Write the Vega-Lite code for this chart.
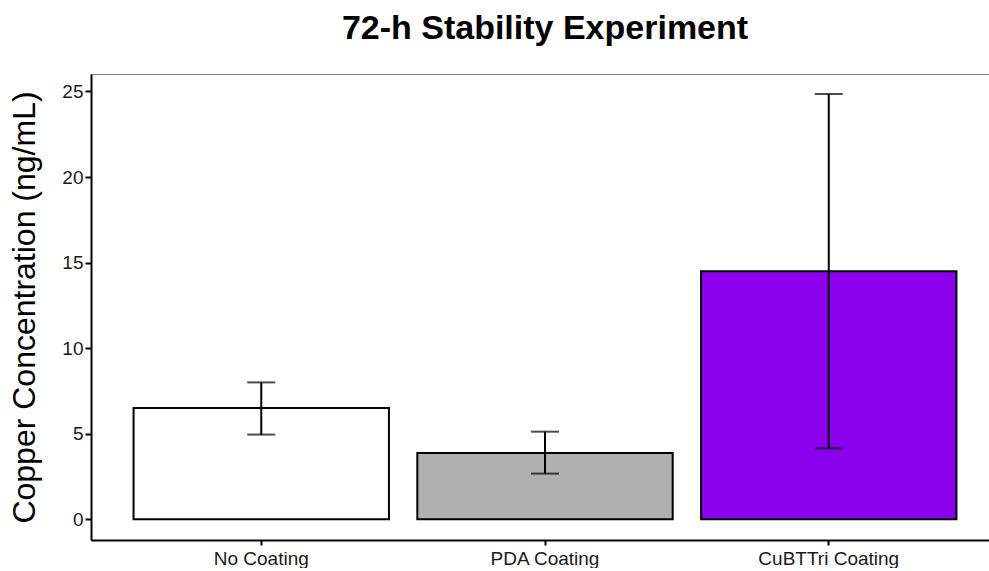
{
  "$schema": "https://vega.github.io/schema/vega-lite/v6.json",
  "width": 908,
  "height": 466,
  "padding": {"left": 8, "top": 12, "right": 0, "bottom": 0},
  "background": "white",
  "config": {
    "font": "Liberation Sans",
    "view": {"stroke": "#7f7f7f", "strokeWidth": 1}
  },
  "title": {
    "text": "72-h Stability Experiment",
    "fontSize": 34,
    "fontWeight": "bold",
    "font": "Liberation Sans",
    "color": "#000000",
    "anchor": "middle",
    "offset": 28
  },
  "data": {
    "values": [
      {"group": "No Coating", "mean": 6.5, "lo": 4.95, "hi": 8.0},
      {"group": "PDA Coating", "mean": 3.88, "lo": 2.67, "hi": 5.12},
      {"group": "CuBTTri Coating", "mean": 14.5, "lo": 4.15, "hi": 24.85}
    ]
  },
  "encoding": {
    "x": {
      "field": "group",
      "type": "nominal",
      "sort": ["No Coating", "PDA Coating", "CuBTTri Coating"],
      "scale": {"paddingInner": 0.1, "paddingOuter": 0.15},
      "axis": {
        "title": null,
        "labelAngle": 0,
        "labelFontSize": 19,
        "labelColor": "#1a1a1a",
        "labelPadding": 4,
        "tickSize": 5,
        "tickWidth": 2,
        "tickColor": "#000000",
        "domainColor": "#000000",
        "domainWidth": 2
      }
    }
  },
  "layer": [
    {
      "mark": {"type": "bar", "stroke": "#000000", "strokeWidth": 2},
      "encoding": {
        "y": {
          "field": "mean",
          "type": "quantitative",
          "scale": {"domain": [-1.21, 26.02], "nice": false, "zero": false},
          "axis": {
            "title": "Copper Concentration (ng/mL)",
            "titleFontSize": 32,
            "titleFontWeight": "normal",
            "titleColor": "#000000",
            "titlePadding": 20,
            "values": [0, 5, 10, 15, 20, 25],
            "grid": false,
            "labelFontSize": 19,
            "labelColor": "#1a1a1a",
            "labelPadding": 2,
            "tickSize": 6,
            "tickWidth": 2,
            "tickColor": "#000000",
            "domainColor": "#000000",
            "domainWidth": 2
          }
        },
        "fill": {
          "field": "group",
          "type": "nominal",
          "scale": {
            "domain": ["No Coating", "PDA Coating", "CuBTTri Coating"],
            "range": ["#ffffff", "#b0b0b0", "#8a00ed"]
          },
          "legend": null
        }
      }
    },
    {
      "mark": {"type": "rule", "color": "#000000", "strokeWidth": 2},
      "encoding": {
        "y": {"field": "lo", "type": "quantitative"},
        "y2": {"field": "hi"}
      }
    },
    {
      "mark": {"type": "tick", "color": "#000000", "size": 28, "thickness": 2},
      "encoding": {"y": {"field": "lo", "type": "quantitative"}}
    },
    {
      "mark": {"type": "tick", "color": "#000000", "size": 28, "thickness": 2},
      "encoding": {"y": {"field": "hi", "type": "quantitative"}}
    }
  ]
}
